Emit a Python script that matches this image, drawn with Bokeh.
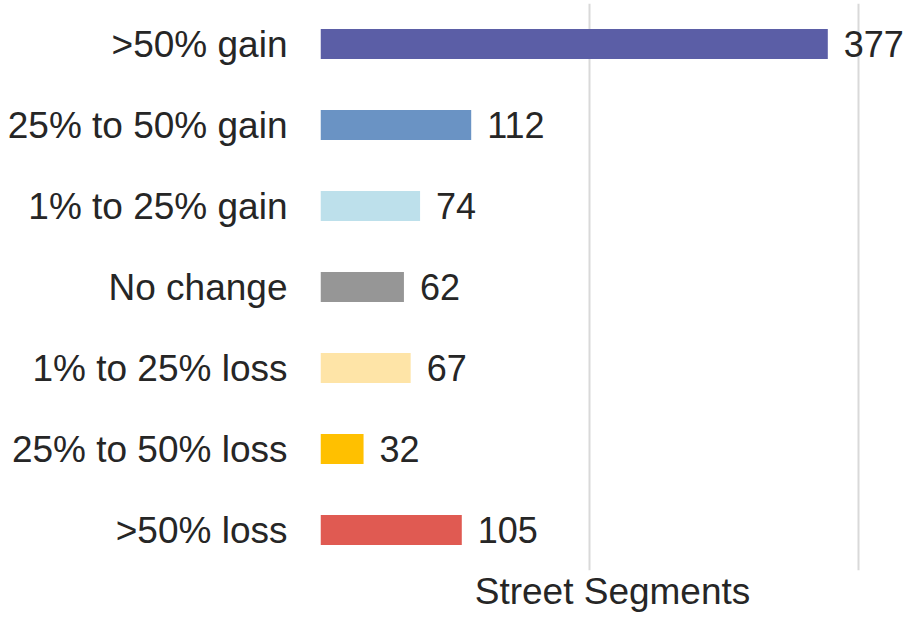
from bokeh.plotting import figure
from bokeh.models import FixedTicker, Range1d, FactorRange, ColumnDataSource
from bokeh.embed import file_html
from bokeh.resources import INLINE
from bokeh.core.properties import value

categories = [">50% gain", "25% to 50% gain", "1% to 25% gain", "No change",
              "1% to 25% loss", "25% to 50% loss", ">50% loss"]
counts = [377, 112, 74, 62, 67, 32, 105]
colors = ["#5b5ea6", "#6a93c4", "#bde0eb", "#969696", "#fee4a7", "#ffc000", "#e05a52"]
grid_ticks = [0, 200, 400]
x_label = "Street Segments"

FONT = "Liberation Sans"
TXT = "#262626"

src = ColumnDataSource(dict(cat=categories, n=counts, color=colors,
                            label=[str(c) for c in counts]))

p = figure(width=904, height=614,
           y_range=FactorRange(factors=list(reversed(categories))),
           x_range=Range1d(0, 434),
           output_backend="svg", toolbar_location=None,
           min_border_left=320, min_border_right=0,
           min_border_top=3, min_border_bottom=43)
p.outline_line_color = None
p.background_fill_color = "white"
p.border_fill_color = "white"

p.hbar(y="cat", right="n", left=0, height=0.37, fill_color="color",
       line_color=None, source=src)
p.text(x="n", y="cat", text="label", x_offset=16, text_baseline="middle",
       text_align="left", text_font=value(FONT), text_font_size="36px",
       text_color=TXT, source=src)

p.ygrid.grid_line_color = None
p.xgrid.ticker = FixedTicker(ticks=grid_ticks)
p.xgrid.grid_line_color = "#d9d9d9"
p.xgrid.grid_line_width = 2

p.yaxis.axis_line_color = None
p.yaxis.major_tick_line_color = None
p.yaxis.minor_tick_line_color = None
p.yaxis.major_label_standoff = 27
p.yaxis.major_label_text_font = FONT
p.yaxis.major_label_text_font_size = "37px"
p.yaxis.major_label_text_color = TXT

p.xaxis.ticker = FixedTicker(ticks=[])
p.xaxis.axis_line_color = None
p.xaxis.major_tick_line_color = None
p.xaxis.minor_tick_line_color = None
p.xaxis.major_label_text_font_size = "0px"
p.xaxis.axis_label = x_label
p.xaxis.axis_label_standoff = 0
p.xaxis.axis_label_text_font = FONT
p.xaxis.axis_label_text_font_style = "normal"
p.xaxis.axis_label_text_font_size = "37px"
p.xaxis.axis_label_text_color = TXT

open("out.html", "w").write(file_html(p, INLINE))
